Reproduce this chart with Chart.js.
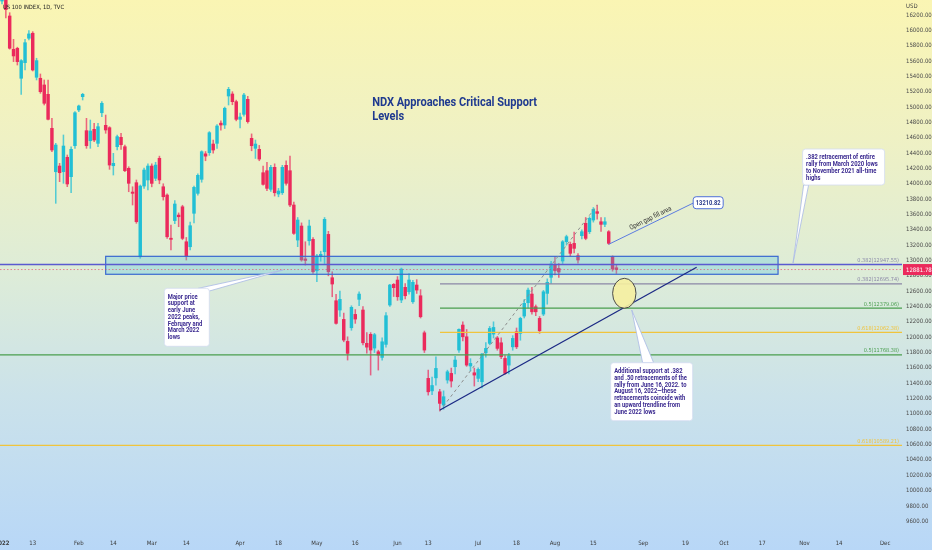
<!DOCTYPE html>
<html>

  <head>
    <meta charset="utf-8">
    <title>NDX Approaches Critical Support Levels</title>
    <script src="https://cdn.jsdelivr.net/npm/chart.js@4.4.0/dist/chart.umd.min.js"></script>

    <style>
      html,
      body {
        margin: 0;
        padding: 0;
      }

      body {
        width: 932px;
        height: 550px;
        overflow: hidden;
        background: linear-gradient(180deg, #faf5b3 0%, #eff1c4 25%, #ddecd8 50%, #cbe2ea 72%, #b8d7f7 100%);
      }

      canvas {
        display: block;
      }
    </style>
  </head>

  <body>
    <canvas id="myChart" width="932" height="550"></canvas>

    <script>
      // daily candles, index 0 = 3 Jan 2022 (trading days)
      const opens = [
        16382, 16520, 16187, 15753, 15766, 15375, 15578, 15897, 15962, 15388,
        15375, 15288, 15166, 14723, 14157, 14231, 14157, 14345, 14092, 14496,
        14962, 15135, 14692, 14561, 14710, 14527, 14926, 14762, 14731, 14235,
        14483, 14605, 14483, 14201, 13892, 14014, 13048, 13970, 14049, 14231,
        14071, 14332, 13961, 13853, 13290, 13520, 13592, 13700, 13244, 13179,
        13615, 13875, 14058, 14390, 14405, 14518, 14527, 14790, 14766, 15144,
        15170, 15070, 14840, 14905, 15101, 14592, 14462, 14449, 14144, 14170,
        13927, 14214, 13866, 13883, 14240, 14170, 13723, 13266, 13449, 13020,
        13257, 13275, 12866, 13049, 13114, 13340, 12775, 12475, 12354, 12232,
        11945, 12123, 12297, 12493, 12354, 11920, 12037, 11858, 11810, 11736,
        11906, 12419, 12689, 12745, 12484, 12650, 12592, 12462, 12680, 12540,
        12057, 11463, 11300, 11470, 11288, 11115, 11441, 11528, 11615, 11832,
        12158, 12005, 11624, 11536, 11463, 11419, 11796, 11919, 12040, 11990,
        11927, 11723, 11636, 11874, 12071, 12050, 12275, 12449, 12562, 12397,
        12245, 12301, 12571, 12780, 12941, 12897, 12993, 13244, 13210, 13223,
        13062, 13323, 13484, 13375, 13527, 13636, 13505, 13471, 13375, 13049,
        12905
      ];
      const highs = [
        16573, 16573, 16230, 15883, 15780, 15620, 15883, 15996, 15983, 15636,
        15431, 15353, 15353, 14853, 14527, 14266, 14636, 14375, 14483, 14940,
        15027, 15179, 14853, 14831, 14788, 14788, 15070, 14896, 14744, 14397,
        14636, 14658, 14505, 14222, 13961, 14049, 13984, 14205, 14260, 14260,
        14280, 14360, 14000, 13870, 13462, 13780, 13620, 13720, 13300, 13500,
        13970, 14130, 14430, 14420, 14680, 14570, 14770, 14820, 15000, 15257,
        15200, 15090, 14920, 15180, 15140, 14650, 14570, 14500, 14230, 14280,
        14240, 14260, 13940, 14240, 14300, 14360, 13760, 13560, 13490, 13244,
        13527, 13300, 13080, 13120, 13560, 13380, 12853, 12560, 12600, 12314,
        12005, 12410, 12360, 12590, 12400, 12060, 12060, 12050, 11830, 11990,
        12320, 12690, 12700, 12790, 12901, 12700, 12830, 12740, 12750, 12620,
        12080, 11571, 11480, 11745, 11320, 11300, 11570, 11597, 11750, 12110,
        12200, 12100, 11720, 11597, 11600, 11790, 11930, 12140, 12200, 12010,
        11990, 11760, 11790, 12020, 12120, 12260, 12490, 12640, 12650, 12420,
        12270, 12610, 12760, 12990, 13050, 12960, 13260, 13330, 13240, 13370,
        13090, 13400, 13560, 13570, 13690, 13721, 13560, 13560, 13390, 13060,
        12950
      ];
      const lows = [
        16344, 16161, 15755, 15592, 15548, 15166, 15483, 15874, 15470, 15353,
        15179, 15027, 14831, 14418, 13745, 14027, 14006, 13962, 13883, 14462,
        14940, 15092, 14462, 14462, 14548, 14483, 14874, 14658, 14188, 14114,
        14440, 14449, 14157, 13896, 13723, 13484, 13028, 13940, 13920, 13960,
        14040, 14000, 13787, 13288, 13136, 13480, 13440, 13270, 13006, 13136,
        13490, 13850, 14020, 14300, 14370, 14400, 14460, 14700, 14720, 15027,
        15030, 14820, 14727, 14880, 14790, 14430, 14330, 14300, 13980, 13910,
        13900, 13840, 13830, 13860, 13980, 13700, 13340, 13180, 12990, 12940,
        13200, 12830, 12723, 12990, 12960, 12800, 12527, 12170, 12270, 11940,
        11702, 12090, 12180, 12410, 11900, 11790, 11506, 11800, 11571, 11700,
        11870, 12400, 12530, 12480, 12450, 12500, 12560, 12440, 12570, 12250,
        11800, 11245, 11250, 11376, 11037, 11060, 11400, 11350, 11520, 11800,
        11950, 11620, 11560, 11363, 11420, 11340, 11740, 11900, 11990, 11830,
        11720, 11515, 11520, 11830, 11850, 11960, 12250, 12380, 12300, 12280,
        12050, 12280, 12430, 12700, 12810, 12780, 12960, 13200, 13050, 13100,
        12966, 13280, 13270, 13350, 13500, 13540, 13380, 13440, 13210, 12860,
        12830
      ];
      const closes = [
        16501, 16270, 15766, 15666, 15592, 15605, 15839, 15953, 15483, 15605,
        15200, 15049, 14840, 14440, 14505, 14144, 14492, 13997, 14449, 14926,
        15014, 15166, 14496, 14688, 14570, 14744, 15049, 14701, 14244, 14266,
        14614, 14509, 14170, 14006, 13875, 13505, 13970, 14179, 14231, 14005,
        14244, 14049, 13831, 13309, 13275, 13736, 13570, 13288, 13058, 13453,
        13953, 14110, 14418, 14360, 14666, 14440, 14753, 14766, 14984, 15231,
        15070, 14840, 14870, 15157, 14810, 14496, 14518, 14322, 13992, 13940,
        14214, 13883, 13905, 14214, 14006, 13723, 13353, 13527, 13006, 13000,
        13449, 12853, 13058, 13080, 13536, 12853, 12693, 12180, 12493, 11962,
        11789, 12389, 12236, 12562, 11927, 11870, 11832, 12032, 11767, 11940,
        12280, 12680, 12645, 12527, 12888, 12540, 12745, 12715, 12614, 12266,
        11832, 11288, 11370, 11593, 11137, 11224, 11549, 11428, 11702, 12102,
        12005, 11636, 11658, 11506, 11580, 11780, 11854, 12114, 12127, 11854,
        11745, 11528, 11757, 11984, 11874, 12245, 12441, 12614, 12331, 12331,
        12084, 12592, 12715, 12954, 12866, 12849, 13244, 13310, 13093, 13158,
        13006, 13375, 13288, 13549, 13666, 13614, 13471, 13505, 13223, 12890,
        12881.78
      ];

      // x axis labels (trading-day index) and price axis ticks
      const tickIdx = [0, 8, 20, 29, 39, 48, 62, 72, 82, 92, 103, 111, 124, 134, 144, 154, 167, 178, 188, 198, 209, 218, 230];
      const tickText = ['2022', '13', 'Feb', '14', 'Mar', '14', 'Apr', '18', 'May', '16', 'Jun', '13', 'Jul', '18', 'Aug', '15', 'Sep', '19', 'Oct', '17', 'Nov', '14', 'Dec'];
      const priceTicks = [
        9600, 9800, 10000, 10200, 10400, 10600, 10800, 11000, 11200, 11400, 11600, 11800,
        12000, 12200, 12400, 12600, 12800, 13000, 13200, 13400, 13600, 13800, 14000, 14200,
        14400, 14600, 14800, 15000, 15200, 15400, 15600, 15800, 16000, 16200
      ];

      // fibonacci levels (March 2020 -> Nov 2021, and June 16 -> Aug 16 2022)
      const fibRatios = ['0.382', '0.5', '0.618'];
      const longFibLevels = [12947.55, 11768.38, 10589.21];
      const shortFibLevels = [12695.74, 12379.06, 12062.38];
      const lastPrice = 12881.78;
      const gapLevel = 13210.82;

      const red = '#eb2a5c';
      const teal = '#22bfd5';
      const fibColors = ['#5a5ad0', '#4a9e4e', '#f0c43c'];
      const shortFibColors = ['#8b87a6', '#4a9e4e', '#f0c43c'];
      const axisFont = '"Liberation Sans Narrow", "DejaVu Sans Condensed", Roboto, sans-serif';

      const bodyData = opens.map((o, i) => ({ x: i, y: [o, closes[i]] }));
      const wickData = lows.map((l, i) => ({ x: i, y: [l, highs[i]] }));
      const bodyColors = opens.map((o, i) => closes[i] >= o ? teal : red);
      const wickColors = opens.map((o, i) => closes[i] >= o ? 'rgba(34,191,213,0.75)' : 'rgba(235,42,92,0.7)');

      function roundRect(ctx, x, y, w, h, r) {
        ctx.beginPath();
        ctx.moveTo(x + r, y);
        ctx.arcTo(x + w, y, x + w, y + h, r);
        ctx.arcTo(x + w, y + h, x, y + h, r);
        ctx.arcTo(x, y + h, x, y, r);
        ctx.arcTo(x, y, x + w, y, r);
        ctx.closePath();
      }

      function squeezeText(ctx, text, x, y, sx) {
        ctx.save();
        ctx.translate(x, y);
        ctx.scale(sx, 1);
        ctx.fillText(text, 0, 0);
        ctx.restore();
      }

      const callouts = [
        { at: [42.27, 12637], w: 45, h: 58, tip: [73.2, 12876], base: [[34, 0], [44, 3]],
          lines: ['Major price', 'support at', 'early June', '2022 peaks,', 'February and', 'March 2022', 'lows'] },
        { at: [208.5, 14453], w: 82, h: 36, tip: [206.0, 12967], base: [[1, 36], [6, 36]],
          lines: ['.382 retracement of entire', 'rally from March 2020 lows', 'to November 2021 all-time', 'highs'] },
        { at: [158.5, 11667], w: 82, h: 58, tip: [164.0, 12354], base: [[32, 0], [43, 0]],
          lines: ['Additional support at .382', 'and .50 retracements of the', 'rally from June 16, 2022. to',
            'August 16, 2022\u2014these', 'retracements coincide with', 'an upward trendline from', 'June 2022 lows'] }
      ];

      const drawings = {
        id: 'drawings',
        afterDatasetsDraw(chart) {
          const { ctx, chartArea: area, scales: { x, y } } = chart;
          const px = v => x.getPixelForValue(v);
          const py = v => y.getPixelForValue(v);

          ctx.save();
          ctx.beginPath();
          ctx.rect(area.left, area.top, area.right - area.left, area.bottom - area.top);
          ctx.clip();

          // support zone
          const zx1 = px(27.0), zx2 = px(202.1), zy1 = py(13054), zy2 = py(12820);
          ctx.fillStyle = 'rgba(70,190,225,0.28)';
          ctx.fillRect(zx1, zy1, zx2 - zx1, zy2 - zy1);
          ctx.strokeStyle = '#3a68d0';
          ctx.lineWidth = 1.2;
          ctx.strokeRect(zx1, zy1, zx2 - zx1, zy2 - zy1);

          // last price line
          ctx.setLineDash([1.5, 2]);
          ctx.strokeStyle = 'rgba(235,42,92,0.55)';
          ctx.lineWidth = 1;
          ctx.beginPath();
          ctx.moveTo(area.left, py(lastPrice));
          ctx.lineTo(area.right, py(lastPrice));
          ctx.stroke();
          ctx.setLineDash([]);

          // fib levels
          ctx.lineWidth = 1.3;
          ctx.font = '5.5px ' + axisFont;
          ctx.textAlign = 'right';
          ctx.textBaseline = 'alphabetic';
          longFibLevels.forEach((lv, i) => {
            ctx.strokeStyle = fibColors[i];
            ctx.beginPath();
            ctx.moveTo(area.left, py(lv));
            ctx.lineTo(area.right - 1, py(lv));
            ctx.stroke();
            ctx.fillStyle = i === 0 ? '#8a8aa8' : fibColors[i];
            ctx.fillText(fibRatios[i] + '(' + lv.toFixed(2) + ')', area.right - 4, py(lv) - 2.5);
          });
          shortFibLevels.forEach((lv, i) => {
            ctx.strokeStyle = shortFibColors[i];
            ctx.beginPath();
            ctx.moveTo(px(114.06), py(lv));
            ctx.lineTo(area.right - 1, py(lv));
            ctx.stroke();
            ctx.fillStyle = shortFibColors[i];
            ctx.fillText(fibRatios[i] + '(' + lv.toFixed(2) + ')', area.right - 4, py(lv) - 2.5);
          });

          // fib diagonal
          ctx.setLineDash([3, 3]);
          ctx.strokeStyle = '#8c8c8c';
          ctx.lineWidth = 1;
          ctx.beginPath();
          ctx.moveTo(px(114), py(11037.2));
          ctx.lineTo(px(155), py(13720.91));
          ctx.stroke();
          ctx.setLineDash([]);

          // upward trendline
          ctx.strokeStyle = '#1c2a85';
          ctx.lineWidth = 1.3;
          ctx.beginPath();
          ctx.moveTo(px(114.06), py(11050));
          ctx.lineTo(px(180.9), py(12911));
          ctx.stroke();

          // highlight circle
          ctx.beginPath();
          ctx.ellipse(px(162.06), py(12572), 11.7, 15, 0, 0, Math.PI * 2);
          ctx.fillStyle = 'rgba(245,240,160,0.9)';
          ctx.fill();
          ctx.strokeStyle = '#4a4a4a';
          ctx.lineWidth = 1;
          ctx.stroke();

          // open gap line + label
          const gx1 = px(158), gy1 = py(gapLevel), gx2 = px(180.2), gy2 = py(13753);
          ctx.strokeStyle = '#5b7be0';
          ctx.lineWidth = 1;
          ctx.beginPath();
          ctx.moveTo(gx1, gy1);
          ctx.lineTo(gx2, gy2);
          ctx.stroke();
          ctx.save();
          ctx.translate(gx1 + (gx2 - gx1) * 0.5, gy1 + (gy2 - gy1) * 0.5 - 3.5);
          ctx.rotate(Math.atan2(gy2 - gy1, gx2 - gx1));
          ctx.font = '7px Roboto';
          ctx.fillStyle = '#333';
          ctx.textAlign = 'center';
          squeezeText(ctx, 'Open gap fill area', 0, 0, 0.85);
          ctx.restore();
          const bx = px(180.0), by = py(13831);
          roundRect(ctx, bx, by, 30, 12, 3);
          ctx.fillStyle = '#fff';
          ctx.fill();
          ctx.strokeStyle = '#4f6fd8';
          ctx.stroke();
          ctx.font = 'bold 6.8px Roboto';
          ctx.fillStyle = '#2b3b8c';
          ctx.textAlign = 'center';
          squeezeText(ctx, gapLevel.toFixed(2), bx + 15, by + 8.4, 0.85);

          // callouts
          callouts.forEach(c => {
            const left = px(c.at[0]), top = py(c.at[1]);
            ctx.beginPath();
            ctx.moveTo(left + c.base[0][0], top + c.base[0][1]);
            ctx.lineTo(px(c.tip[0]), py(c.tip[1]));
            ctx.lineTo(left + c.base[1][0], top + c.base[1][1]);
            ctx.closePath();
            ctx.fillStyle = '#fff';
            ctx.fill();
            ctx.strokeStyle = '#a8b9e4';
            ctx.lineWidth = 0.8;
            ctx.stroke();
            roundRect(ctx, left, top, c.w, c.h, 3);
            ctx.fillStyle = '#fff';
            ctx.fill();
            ctx.strokeStyle = '#d3dcf0';
            ctx.stroke();
            ctx.font = 'bold 7.4px Roboto';
            ctx.fillStyle = '#3b2a90';
            ctx.textAlign = 'left';
            c.lines.forEach((t, k) => squeezeText(ctx, t, left + 3.5, top + 10.4 + k * 6.75, 0.79));
          });

          // title
          ctx.font = 'bold 13.5px Roboto';
          ctx.fillStyle = '#1f3a8f';
          ctx.textAlign = 'left';
          squeezeText(ctx, 'NDX Approaches Critical Support', px(96.4), py(15014), 0.82);
          squeezeText(ctx, 'Levels', px(96.4), py(15014) + 14, 0.82);

          // symbol caption
          ctx.font = '5.8px ' + axisFont;
          ctx.fillStyle = '#222';
          ctx.fillText('US 100 INDEX, 1D, TVC', area.left + 3, area.top + 9);
          ctx.restore();

          // axis extras
          ctx.save();
          ctx.font = '6px ' + axisFont;
          ctx.fillStyle = '#444';
          ctx.textAlign = 'left';
          ctx.fillText('USD', area.right + 3, 8);
          const ly = py(lastPrice);
          ctx.fillStyle = '#eb2a5c';
          ctx.fillRect(area.right, ly - 5.5, 932 - area.right, 11);
          ctx.fillStyle = '#fff';
          ctx.textBaseline = 'middle';
          ctx.fillText(lastPrice.toFixed(2), area.right + 3, ly + 0.5);
          ctx.restore();
        }
      };

      const config = {
        type: 'bar',
        data: {
          datasets: [{
            label: 'body',
            data: bodyData,
            backgroundColor: bodyColors,
            borderWidth: 0,
            barThickness: 2.8,
            minBarLength: 1,
            grouped: false,
            clip: { left: 0, top: 0, right: 0, bottom: 0 }
          }, {
            label: 'wick',
            data: wickData,
            backgroundColor: wickColors,
            borderWidth: 0,
            barThickness: 0.9,
            grouped: false,
            clip: { left: 0, top: 0, right: 0, bottom: 0 }
          }]
        },
        plugins: [drawings],
        options: {
          responsive: false,
          animation: false,
          layout: { padding: 0 },
          scales: {
            x: {
              type: 'linear',
              min: -0.521,
              max: 234.64,
              offset: false,
              grid: { display: false, drawTicks: false },
              border: { display: false },
              ticks: {
                autoSkip: false,
                maxRotation: 0,
                padding: 8,
                color: '#3a3a3a',
                font: (c) => ({ family: axisFont, size: 6, weight: c.tick && c.tick.value === 0 ? 'bold' : 'normal' }),
                callback: (v) => tickText[tickIdx.indexOf(v)]
              },
              afterBuildTicks: (scale) => { scale.ticks = tickIdx.map(v => ({ value: v })); },
              afterFit: (scale) => { scale.height = 18; scale.paddingLeft = 0; scale.paddingRight = 0; }
            },
            y: {
              position: 'right',
              min: 9460.3,
              max: 16395.5,
              beginAtZero: false,
              grid: { display: false, drawTicks: false },
              border: { display: false },
              ticks: {
                padding: 3,
                color: '#4a4a4a',
                font: { family: axisFont, size: 6 },
                callback: (v) => v.toFixed(2)
              },
              afterBuildTicks: (scale) => { scale.ticks = priceTicks.map(v => ({ value: v })); },
              afterFit: (scale) => { scale.width = 29; scale.paddingTop = 0; scale.paddingBottom = 0; }
            }
          },
          plugins: {
            legend: { display: false },
            tooltip: { enabled: false },
            title: { display: false }
          }
        }
      };

      const myChart = new Chart(document.getElementById('myChart'), config);
    </script>

  </body>

</html>
